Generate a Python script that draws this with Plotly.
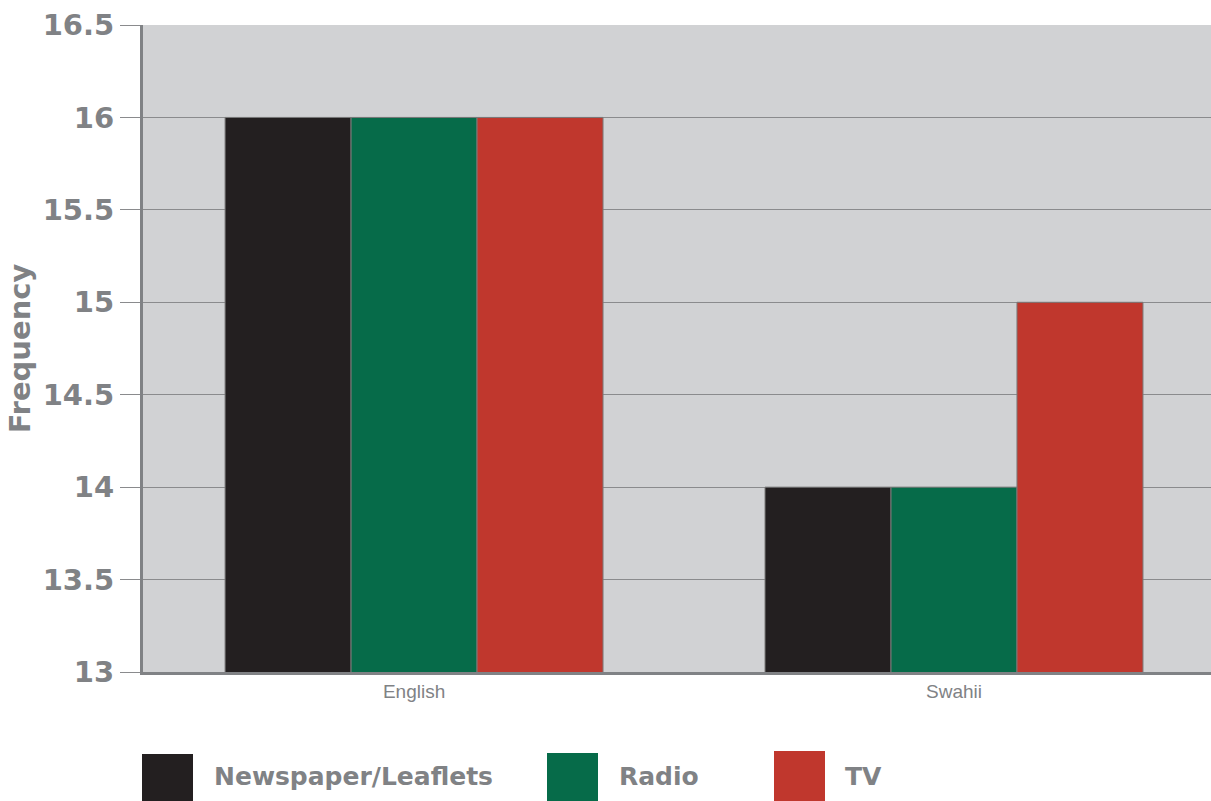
import plotly.graph_objects as go

languages = ["English", "Swahii"]
series_names = ["Newspaper/Leaflets", "Radio", "TV"]
series_values = [
    [16, 14],   # Newspaper/Leaflets
    [16, 14],   # Radio
    [16, 15],   # TV
]
series_colors = ["#231f20", "#066b49", "#c0372d"]
y_ticks = [13, 13.5, 14, 14.5, 15, 15.5, 16, 16.5]

GRAY = "#808285"
BOLD_FONT = "DejaVu Sans, Liberation Sans, sans-serif"
FONT = "Liberation Sans, Arial, sans-serif"

W, H = 1211, 801
L, R, T, B = 143, 0, 25, 129
PW, PH = W - L - R, H - T - B

fig = go.Figure()
for name, vals, col in zip(series_names, series_values, series_colors):
    fig.add_trace(go.Bar(
        x=languages, y=vals, name=name,
        marker=dict(color=col, line=dict(color="#7a7a7a", width=1)),
        showlegend=False,
    ))

# legend drawn as large swatches with bold labels beneath the plot
def px_x(px):
    return (px - L) / PW

def px_y(py):
    return (H - B - py) / PH

swatches = [(142, 754, 212), (547, 753, 617), (774, 751, 843)]
for (sx, sy, tx), name, col in zip(swatches, series_names, series_colors):
    fig.add_shape(type="rect", xref="paper", yref="paper",
                  x0=px_x(sx), x1=px_x(sx + 51), y0=px_y(sy), y1=px_y(sy + 50),
                  fillcolor=col, line=dict(width=0), layer="above")
    fig.add_annotation(xref="paper", yref="paper", x=px_x(tx), y=px_y(776),
                       text=name, showarrow=False, xanchor="left", yanchor="middle",
                       font=dict(family=BOLD_FONT, size=25, color=GRAY, weight="bold"))

fig.update_layout(
    width=W, height=H,
    margin=dict(l=L, r=R, t=T, b=B, pad=0),
    paper_bgcolor="white",
    plot_bgcolor="#d1d2d4",
    barmode="group",
    bargap=0.3,
    bargroupgap=0,
    xaxis=dict(
        range=[-0.502, 1.476],
        showgrid=False, showline=True, linecolor=GRAY, linewidth=3,
        ticks="", tickfont=dict(family=FONT, size=19, color=GRAY),
        zeroline=False,
    ),
    yaxis=dict(
        range=[13, 16.5], tickvals=y_ticks,
        ticktext=[f"{v:g}" for v in y_ticks],
        showgrid=True, gridcolor="#8a8b8d", gridwidth=1,
        showline=True, linecolor=GRAY, linewidth=3,
        ticks="outside", ticklen=20, tickcolor="#8a8b8d", tickwidth=1,
        tickfont=dict(family=BOLD_FONT, size=29, color=GRAY, weight="bold"),
        title=dict(text="Frequency", standoff=4,
                   font=dict(family=BOLD_FONT, size=29, color=GRAY, weight="bold")),
        zeroline=False,
    ),
)

fig.write_html("out.html")
